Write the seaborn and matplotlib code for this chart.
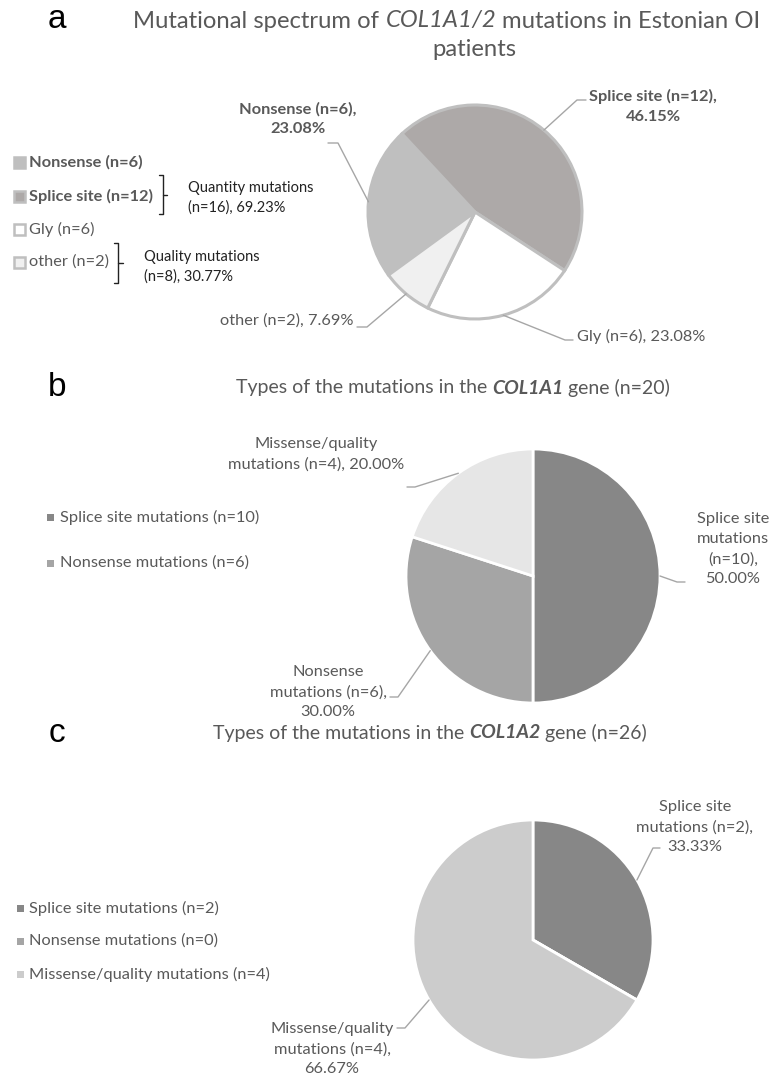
import numpy as np
import pandas as pd
import matplotlib.pyplot as plt
import seaborn as sns
from matplotlib.patches import Rectangle

sns.set_style("white")
plt.rcParams['font.family'] = ['Lato', 'DejaVu Sans']

# ---- data ----
a_labels = ["Nonsense", "Splice site", "Gly", "other"]
a_counts = [6, 12, 6, 2]
a_bold = [True, True, False, False]

# group notes as printed in the figure
group_names = ["Quantity mutations", "Quality mutations"]
group_n = [16, 8]
group_pct = [69.23, 30.77]

b_labels = ["Splice site mutations", "Nonsense mutations", "Missense/quality mutations"]
b_counts = [10, 6, 4]

c_labels = ["Splice site mutations", "Nonsense mutations", "Missense/quality mutations"]
c_counts = [2, 0, 4]

# ---- styles ----
a_colors = ["#BFBFBF", "#ADA9A8", "#FFFFFF", "#F0F0F0"]
bc_colors = ["#878787", "#A5A5A5", "#E6E6E6"]
c_colors = ["#878787", "#A5A5A5", "#CCCCCC"]
TXT = "#595959"
LINE = "#A6A6A6"

W, H = 774, 1079
fig = plt.figure(figsize=(W / 100, H / 100), dpi=100)
ax = fig.add_axes([0, 0, 1, 1])


def Y(y):
    return H - y


def pct(n, tot):
    return f"{100 * n / tot:.2f}%"


def leader(wedges, i, cx, cy, r, knee, end):
    w = wedges[i]
    ang = np.deg2rad((w.theta1 + w.theta2) / 2)
    x0 = cx + r * np.cos(ang)
    y0 = Y(cy) + r * np.sin(ang)
    ax.plot([x0, knee[0], end[0]], [y0, Y(knee[1]), Y(end[1])], color=LINE, lw=1)


def rich_line(xc, y, parts, size):
    r = fig.canvas.get_renderer()
    objs = []
    for s, kw in parts:
        objs.append(ax.text(0, Y(y), s, fontsize=size, color=TXT, va="center", ha="left", **kw))
    sp = ax.text(0, 0, "a a", fontsize=size)
    sp2 = ax.text(0, 0, "aa", fontsize=size)
    gap = sp.get_window_extent(r).width - sp2.get_window_extent(r).width
    sp.remove(); sp2.remove()
    widths = [t.get_window_extent(r).width for t in objs]
    x = xc - (sum(widths) + gap * (len(objs) - 1)) / 2
    for t, w in zip(objs, widths):
        t.set_x(x)
        x += w + gap


LS = 11.8
LSP = 1.55

# ================= panel a =================
ca, ra = (475, 212), 107
tot_a = sum(a_counts)
wa, _ = ax.pie(a_counts, colors=a_colors, center=(ca[0], Y(ca[1])), radius=ra,
               startangle=133 + 360 * a_counts[0] / tot_a, counterclock=False,
               wedgeprops=dict(edgecolor="#BFBFBF", linewidth=2.2))

a_lab = {
    0: dict(xy=(298, 119), ha="center", knee=(338, 143), end=(328, 143)),
    1: dict(xy=(653, 106), ha="center", knee=(577, 100), end=(586, 100)),
    2: dict(xy=(577, 336), ha="left", knee=(565, 340), end=(573, 340)),
    3: dict(xy=(354, 321), ha="right", knee=(367, 327), end=(357, 327)),
}
for i, lay in a_lab.items():
    n = a_counts[i]
    if i in (0, 1):
        s = f"{a_labels[i]} (n={n}),\n{pct(n, tot_a)}"
    else:
        s = f"{a_labels[i]} (n={n}), {pct(n, tot_a)}"
    ax.text(lay["xy"][0], Y(lay["xy"][1]), s, ha=lay["ha"], va="center", ma="center",
            fontsize=LS, color=TXT, fontweight="bold" if a_bold[i] else "normal", linespacing=LSP)
    leader(wa, i, ca[0], ca[1], ra, lay["knee"], lay["end"])

# legend a
for i, yy in enumerate([162, 196, 229, 262]):
    ax.add_patch(Rectangle((14, Y(yy) - 5.5), 11, 11, facecolor=a_colors[i],
                           edgecolor="#BFBFBF", lw=1.8))
    ax.text(29, Y(yy), f"{a_labels[i]} (n={a_counts[i]})", va="center", ha="left",
            fontsize=LS, color=TXT, fontweight="bold" if a_bold[i] else "normal")

# brackets and group notes
for xb, y1, y2, xm in [(163, 175, 214, 167), (118, 243, 283, 123)]:
    ax.plot([xb - 4, xb, xb, xb - 4], [Y(y1), Y(y1), Y(y2), Y(y2)], color="#222222", lw=1)
    ax.plot([xb, xm], [Y((y1 + y2) / 2), Y((y1 + y2) / 2)], color="#222222", lw=1)
for (gx, gy), name, n, p in zip([(188, 198), (144, 267)], group_names, group_n, group_pct):
    ax.text(gx, Y(gy), f"{name}\n(n={n}), {p:.2f}%", va="center", ha="left",
            fontsize=10.5, color="#222222", linespacing=1.45)

# ================= panel b =================
cb, rb = (533, 576), 127
tot_b = sum(b_counts)
wb, _ = ax.pie(b_counts, colors=bc_colors, center=(cb[0], Y(cb[1])), radius=rb,
               startangle=90, counterclock=False,
               wedgeprops=dict(edgecolor="white", linewidth=2))
b_lab = {
    0: dict(xy=(733, 549), text="Splice site\nmutations\n(n={n}),\n{p}", knee=(677, 582), end=(685, 582)),
    1: dict(xy=(328, 692), text="Nonsense\nmutations (n={n}),\n{p}", knee=(398, 697), end=(390, 697)),
    2: dict(xy=(316, 454), text="Missense/quality\nmutations (n={n}), {p}", knee=(415, 487), end=(407, 487)),
}
for i, lay in b_lab.items():
    s = lay["text"].format(n=b_counts[i], p=pct(b_counts[i], tot_b))
    ax.text(lay["xy"][0], Y(lay["xy"][1]), s, ha="center", va="center", ma="center",
            fontsize=LS, color=TXT, linespacing=LSP)
    leader(wb, i, cb[0], cb[1], rb, lay["knee"], lay["end"])

for i, yy in enumerate([517, 563]):
    ax.add_patch(Rectangle((47, Y(yy) - 3.5), 7, 7, facecolor=bc_colors[i], edgecolor="none"))
    ax.text(60, Y(yy), f"{b_labels[i]} (n={b_counts[i]})", va="center", ha="left",
            fontsize=LS, color=TXT)

# ================= panel c =================
cc, rc = (533, 940), 120
tot_c = sum(c_counts)
wc, _ = ax.pie(c_counts, colors=c_colors, center=(cc[0], Y(cc[1])), radius=rc,
               startangle=90, counterclock=False,
               wedgeprops=dict(edgecolor="white", linewidth=2))
c_lab = {
    0: dict(xy=(695, 827), text="Splice site\nmutations (n={n}),\n{p}", knee=(653, 848), end=(660, 848)),
    2: dict(xy=(332, 1049), text="Missense/quality\nmutations (n={n}),\n{p}", knee=(405, 1028), end=(397, 1028)),
}
for i, lay in c_lab.items():
    s = lay["text"].format(n=c_counts[i], p=pct(c_counts[i], tot_c))
    ax.text(lay["xy"][0], Y(lay["xy"][1]), s, ha="center", va="center", ma="center",
            fontsize=LS, color=TXT, linespacing=LSP)
    leader(wc, i, cc[0], cc[1], rc, lay["knee"], lay["end"])

for i, yy in enumerate([908, 941, 974]):
    ax.add_patch(Rectangle((17, Y(yy) - 3.5), 7, 7, facecolor=c_colors[i], edgecolor="none"))
    ax.text(29, Y(yy), f"{c_labels[i]} (n={c_counts[i]})", va="center", ha="left",
            fontsize=LS, color=TXT)

# reset the canvas after ax.pie
ax.set_xlim(0, W)
ax.set_ylim(0, H)
ax.set_aspect("auto")
ax.axis("off")

# ================= titles =================
rich_line(447, 21, [("Mutational spectrum of", {}), ("COL1A1/2", dict(style="italic")),
                    ("mutations in Estonian OI", {})], 17.2)
rich_line(474, 49, [("patients", {})], 17.2)
rich_line(453, 388, [("Types of the mutations in the", {}),
                     ("COL1A1", dict(style="italic", weight="bold")), ("gene (n=20)", {})], 14)
rich_line(430, 733, [("Types of the mutations in the", {}),
                     ("COL1A2", dict(style="italic", weight="bold")), ("gene (n=26)", {})], 14)

for lt, yy in [("a", 20), ("b", 388), ("c", 733)]:
    ax.text(57, Y(yy), lt, fontsize=24, family="Liberation Sans", ha="center", va="center",
            color="black")

fig.savefig("out.png", dpi=100)
